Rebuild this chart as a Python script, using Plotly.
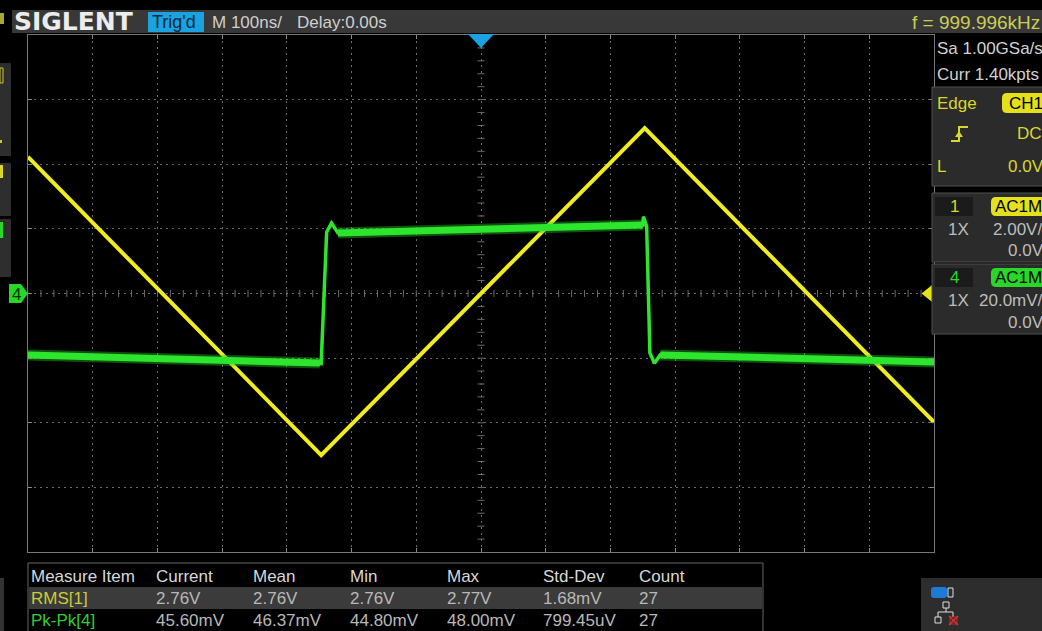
import plotly.graph_objects as go

# ---------------- waveform data ----------------
# CH1: triangle wave, time in ns, amplitude in V (2.00 V/div)
ch1_time_ns = [-700, -247, 253, 700]
ch1_volts = [4.23, -5.00, 5.12, -3.98]

# CH4: square response, time in ns, amplitude in mV (20.0 mV/div)
ch4_time_ns = [-700, -249, -247, -238.5, -231, -221, 250, 251, 256, 261, 268, 277, 700]
ch4_mv = [-19.0, -21.5, -21.7, 19.0, 21.8, 18.7, 21.2, 23.8, 20.7, -18.4, -21.6, -19.0, -21.2]

# ---------------- measurement table ----------------
measure_headers = ["Measure Item", "Current", "Mean", "Min", "Max", "Std-Dev", "Count"]
rms_row = ["RMS[1]", "2.76V", "2.76V", "2.76V", "2.77V", "1.68mV", "27"]
pkpk_row = ["Pk-Pk[4]", "45.60mV", "46.37mV", "44.80mV", "48.00mV", "799.45uV", "27"]

# ---------------- status texts ----------------
brand = "SIGLENT"
trig_state = "Trig'd"
timebase_text = "M 100ns/"
delay_text = "Delay:0.00s"
freq_text = "f = 999.996kHz"
sample_rate = "Sa 1.00GSa/s"
mem_depth = "Curr 1.40kpts"

# ---------------- scope geometry ----------------
W, H = 1042, 631
GRID_L, GRID_R, GRID_T, GRID_B = 28, 934, 35, 552
NS_PER_DIV, H_DIVS = 100, 14
V_PER_DIV, MV_PER_DIV, V_DIVS = 2.0, 20.0, 8
FONT = "Liberation Sans"

YELLOW = "#f0ec1e"
GREEN = "#2de52d"
GRID = "#6c6c6c"


def px(x):
    return x / W


def py(y):
    return 1 - y / H


shapes = []
annotations = []


def rect(x0, y0, x1, y1, fill="rgba(0,0,0,0)", line=None, lw=0):
    shapes.append(dict(type="rect", xref="paper", yref="paper",
                       x0=px(x0), x1=px(x1), y0=py(y1), y1=py(y0),
                       fillcolor=fill, layer="above",
                       line=dict(color=line or "rgba(0,0,0,0)", width=lw)))


def path(points, fill=None, line=None, lw=0, close=True):
    d = "M " + " L ".join(f"{px(x):.5f},{py(y):.5f}" for x, y in points)
    if close:
        d += " Z"
    shapes.append(dict(type="path", xref="paper", yref="paper", path=d,
                       fillcolor=fill or "rgba(0,0,0,0)", layer="above",
                       line=dict(color=line or "rgba(0,0,0,0)", width=lw)))


def rounded(x0, y0, x1, y1, r, fill):
    rx, ry = r / W, r / H
    X0, X1, Y0, Y1 = px(x0), px(x1), py(y1), py(y0)
    d = (f"M {X0+rx},{Y0} L {X1-rx},{Y0} Q {X1},{Y0} {X1},{Y0+ry} "
         f"L {X1},{Y1-ry} Q {X1},{Y1} {X1-rx},{Y1} L {X0+rx},{Y1} "
         f"Q {X0},{Y1} {X0},{Y1-ry} L {X0},{Y0+ry} Q {X0},{Y0} {X0+rx},{Y0} Z")
    shapes.append(dict(type="path", xref="paper", yref="paper", path=d,
                       fillcolor=fill, layer="above", line=dict(width=0)))


def txt(x, y, s, color, size=17, family=FONT, bold=False):
    if bold:
        s = f"<b>{s}</b>"
    annotations.append(dict(x=px(x), y=py(y), xref="paper", yref="paper",
                            text=s, showarrow=False, xanchor="left",
                            yanchor="middle", borderpad=0,
                            font=dict(color=color, size=size, family=family)))


fig = go.Figure()

# ---------------- graticule center ticks ----------------
half_t = NS_PER_DIV * H_DIVS / 2
sub_t = NS_PER_DIV / 5
tick_x = [-half_t + sub_t * i for i in range(1, int(2 * half_t / sub_t))]
fig.add_trace(go.Scatter(x=tick_x, y=[0] * len(tick_x), mode="markers",
                         marker=dict(symbol="line-ns", size=5,
                                     line=dict(width=1, color=GRID)),
                         hoverinfo="skip", showlegend=False))
half_v = V_PER_DIV * V_DIVS / 2
sub_v = V_PER_DIV / 5
tick_y = [-half_v + sub_v * i for i in range(1, int(2 * half_v / sub_v))]
fig.add_trace(go.Scatter(x=[0] * len(tick_y), y=tick_y, mode="markers",
                         marker=dict(symbol="line-ew", size=5,
                                     line=dict(width=1, color=GRID)),
                         hoverinfo="skip", showlegend=False))

# ---------------- CH4 trace (green) ----------------
flat_parts = [(0, 2), (5, 7), (11, 13)]
band_t, band_v = [], []
for a, b in flat_parts:
    band_t += ch4_time_ns[a:b] + [None]
    band_v += ch4_mv[a:b] + [None]

fig.add_trace(go.Scatter(x=band_t, y=band_v, yaxis="y2", mode="lines",
                         line=dict(color="rgba(40,200,40,0.40)", width=11),
                         hoverinfo="skip", showlegend=False))
fig.add_trace(go.Scatter(x=band_t, y=band_v, yaxis="y2", mode="lines",
                         line=dict(color=GREEN, width=7),
                         hoverinfo="skip", showlegend=False))
fig.add_trace(go.Scatter(x=ch4_time_ns, y=ch4_mv, yaxis="y2", mode="lines",
                         line=dict(color=GREEN, width=3.5),
                         hoverinfo="skip", showlegend=False))

# ---------------- CH1 trace (yellow) ----------------
fig.add_trace(go.Scatter(x=ch1_time_ns, y=ch1_volts, mode="lines",
                         line=dict(color=YELLOW, width=4),
                         hoverinfo="skip", showlegend=False))

# ---------------- top status bar ----------------
rect(12, 10, W + 2, 33, "#383838")
txt(13, 21.5, brand, "#ececec", size=25, family="DejaVu Sans", bold=True)
rect(148, 12, 204, 32, "#1aa3df")
txt(151, 22, trig_state, "#0b2a40", size=18)
txt(211, 22, timebase_text, "#cfcfcf")
txt(296, 22, delay_text, "#cfcfcf")
txt(911, 22, freq_text, "#cccc55", size=19)
rect(0, 13, 4, 24, "#a8a830")

# ---------------- left edge panels ----------------
rect(0, 63, 11, 156, "#2e2e2e")
rect(0, 68, 3, 83, "rgba(0,0,0,0)", "#c8c832", 1)
rect(0, 140, 2, 143, "#c8c832")
rect(0, 163, 11, 216, "#2e2e2e")
rect(0, 165, 3, 178, "#d8d828")
rect(0, 219, 11, 277, "#2e2e2e")
rect(0, 222, 3, 238, "#2ad82a")
rect(0, 578, 4, W, "#333333")

# ---------------- markers ----------------
path([(9, 284), (21, 284), (28, 293.5), (21, 303), (9, 303)], fill="#25d825")
txt(11, 294, "4", "#063006", size=17)
path([(468, 34), (494, 34), (481, 48)], fill="#1aa3df")
path([(934, 283.5), (934, 303.5), (921.5, 293.5)], fill="#e6e21c")

# ---------------- right side panel ----------------
txt(936, 48, sample_rate, "#d2d2d2")
txt(936, 74, mem_depth, "#d2d2d2")

rect(932, 87, W + 2, 186, "#2b2b2b", "#505050", 1)
txt(936, 103, "Edge", "#d8d82c")
rounded(1002, 93, W + 6, 113, 5, "#e4e01c")
txt(1008, 103.5, "CH1", "#000000")
path([(951, 141), (959, 141), (959, 127), (968, 127)], line="#d8d82c", lw=2, close=False)
path([(955, 137), (963, 137), (959, 131)], fill="#d8d82c")
txt(1016, 134, "DC", "#d8d82c")
txt(936, 166, "L", "#d8d82c")
txt(1007, 166, "0.0V", "#d8d82c")

rect(932, 193, W + 2, 262, "#2b2b2b", "#505050", 1)
rect(935, 197, 973, 216, "#1b1b1b")
txt(949, 206.5, "1", "#d8d82c")
rounded(991, 197, W + 6, 216, 5, "#e4e01c")
txt(994, 206.5, "AC1M", "#000000")
txt(947, 229, "1X", "#bdbdbd")
txt(992, 229, "2.00V/", "#bdbdbd")
txt(1007, 250, "0.0V", "#bdbdbd")

rect(932, 264, W + 2, 334, "#2b2b2b", "#505050", 1)
rect(935, 268, 973, 287, "#1b1b1b")
txt(949, 277.5, "4", "#2ad82a")
rounded(991, 268, W + 6, 287, 5, "#27d827")
txt(994, 277.5, "AC1M", "#000000")
txt(947, 300, "1X", "#bdbdbd")
txt(978, 300, "20.0mV/", "#bdbdbd")
txt(1007, 322, "0.0V", "#bdbdbd")

# ---------------- bottom right status icons ----------------
rect(921, 578, W + 2, W, "#2d2d2d")
rounded(931, 587, 947, 598, 3, "#1f7ad6")
rect(948, 588, 953, 597, "rgba(0,0,0,0)", "#e0e0e0", 1)
rect(943, 602, 949, 608, "rgba(0,0,0,0)", "#e0e0e0", 1)
path([(946, 608), (946, 612), (938, 612), (938, 617)], line="#e0e0e0", lw=1, close=False)
path([(946, 612), (953, 612), (953, 617)], line="#e0e0e0", lw=1, close=False)
rect(935, 617, 941, 623, "rgba(0,0,0,0)", "#e0e0e0", 1)
rect(950, 617, 957, 624, "rgba(0,0,0,0)", "#c02828", 1)
path([(949, 616), (958, 625)], line="#d83030", lw=1.5, close=False)
path([(958, 616), (949, 625)], line="#d83030", lw=1.5, close=False)

# ---------------- measurement table ----------------
col_x = [31, 156, 253, 350, 447, 543, 639]
rect(28, 563, 763, H + 2, "#000000", "#666666", 1)
rect(29, 587, 762, 609, "#3b3b3b")
for x, s in zip(col_x, measure_headers):
    txt(x - 1, 576, s, "#d8d8d8")
for i, (x, s) in enumerate(zip(col_x, rms_row)):
    txt(x - 1, 598, s, "#cccc38" if i == 0 else "#b8b8b8")
for i, (x, s) in enumerate(zip(col_x, pkpk_row)):
    txt(x - 1, 620, s, "#2fcf2f" if i == 0 else "#b8b8b8")

# ---------------- layout ----------------
axis_common = dict(showgrid=True, gridcolor=GRID, gridwidth=1, griddash="2px,4px",
                   zeroline=False, showticklabels=False, ticks="inside",
                   ticklen=4, tickcolor="#888888", showline=True,
                   linecolor="#777777", linewidth=1, mirror="ticks",
                   fixedrange=True)

fig.update_layout(
    width=W, height=H, autosize=False,
    margin=dict(l=0, r=0, t=0, b=0, pad=0),
    paper_bgcolor="#000000", plot_bgcolor="#000000",
    showlegend=False,
    xaxis=dict(range=[-half_t, half_t], dtick=NS_PER_DIV, tick0=0,
               domain=[px(GRID_L), px(GRID_R)], **axis_common),
    yaxis=dict(range=[-half_v, half_v], dtick=V_PER_DIV, tick0=0,
               domain=[py(GRID_B), py(GRID_T)], **axis_common),
    yaxis2=dict(range=[-MV_PER_DIV * V_DIVS / 2, MV_PER_DIV * V_DIVS / 2],
                overlaying="y", visible=False, fixedrange=True),
    shapes=shapes,
    annotations=annotations,
)

fig.write_html("out.html", config={"displayModeBar": False, "staticPlot": True})
